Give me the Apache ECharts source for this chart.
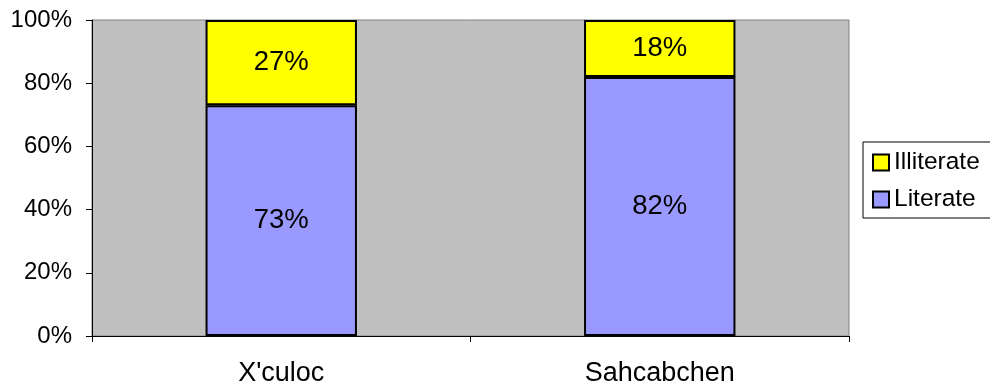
<!DOCTYPE html>
<html><head><meta charset="utf-8">
<script src="https://cdn.jsdelivr.net/npm/echarts@6/dist/echarts.min.js"></script>
<style>html,body{margin:0;padding:0;background:#fff}#c{width:990px;height:385px}</style>
</head><body><div id="c"></div>
<script>
const categories = ["X'culoc", "Sahcabchen"];
const literate = [73, 82];
const illiterate = [27, 18];
const yTicks = [0, 20, 40, 60, 80, 100];

const chart = echarts.init(document.getElementById('c'), null, {renderer: 'canvas'});
const font = '"Liberation Sans", Arial, sans-serif';
const lbl = {show: true, position: 'inside', formatter: '{c}%', color: '#000', fontSize: 27.5, fontFamily: font};
chart.setOption({
  animation: false,
  textStyle: {fontFamily: font},
  grid: {left: 92, right: 141, top: 20, bottom: 49, outerBoundsMode: 'none', containLabel: false,
         show: true, backgroundColor: '#C0C0C0', borderColor: '#808080', borderWidth: 1},
  legend: {
    orient: 'vertical', left: 863, top: 142, padding: [8, 20, 6, 9],
    borderColor: '#000', borderWidth: 1, backgroundColor: '#fff',
    itemWidth: 16, itemHeight: 16, itemGap: 12, icon: 'rect',
    itemStyle: {borderColor: '#000', borderWidth: 2},
    textStyle: {fontSize: 24.5, lineHeight: 23, color: '#000', fontFamily: font},
    data: ['Illiterate', 'Literate']
  },
  xAxis: {
    type: 'category', data: categories,
    axisLine: {lineStyle: {color: '#000', width: 1}},
    axisTick: {show: true, length: 6, lineStyle: {color: '#000'}},
    axisLabel: {fontSize: 27, color: '#000', margin: 24, fontFamily: font}
  },
  yAxis: {
    type: 'value', min: yTicks[0], max: yTicks[yTicks.length - 1], interval: 20,
    axisLine: {show: true, lineStyle: {color: '#000'}},
    axisTick: {show: true, length: 6, inside: false, lineStyle: {color: '#000'}},
    splitLine: {show: false},
    axisLabel: {fontSize: 24, color: '#000', formatter: '{value}%', margin: 20, fontFamily: font}
  },
  series: [
    {name: 'Literate', type: 'bar', stack: 't', data: literate, barWidth: '40%',
     itemStyle: {color: '#9999FF', borderColor: '#000', borderWidth: 2}, label: lbl},
    {name: 'Illiterate', type: 'bar', stack: 't', data: illiterate, barWidth: '40%',
     itemStyle: {color: '#FFFF00', borderColor: '#000', borderWidth: 2}, label: lbl}
  ]
});
</script></body></html>
